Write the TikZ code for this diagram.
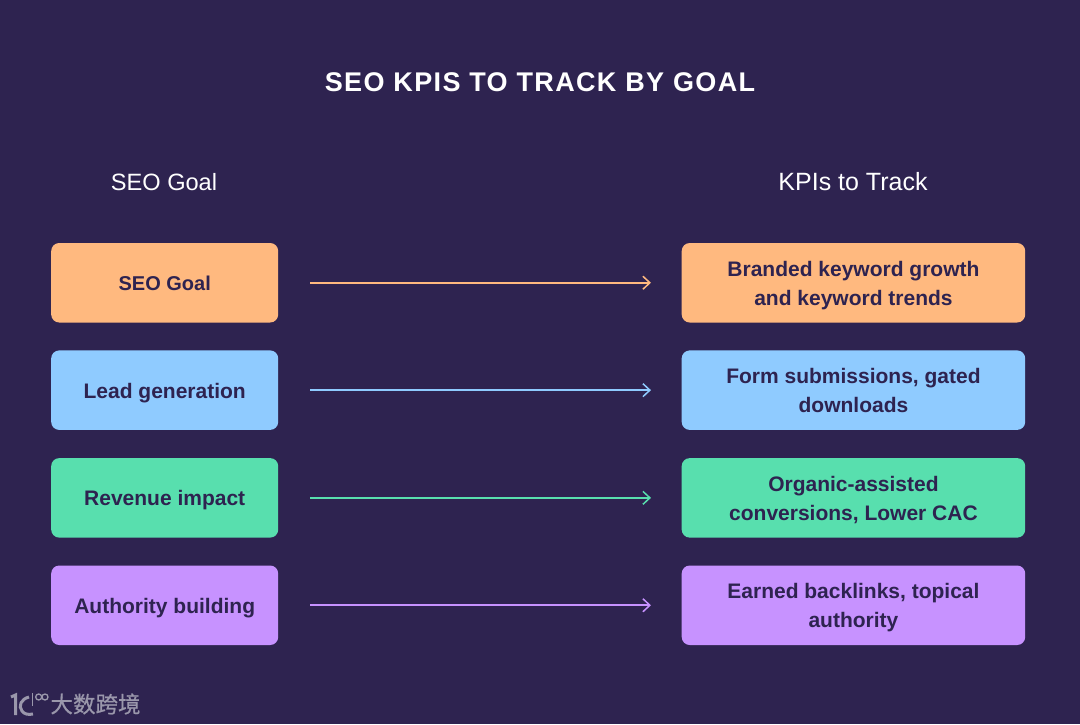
\documentclass[tikz,border=0pt]{standalone}
\usepackage{fontspec}
\setmainfont{Liberation Sans}
\newfontfamily\titlefont[LetterSpace=5]{Liberation Sans}
\newfontfamily\cjk[FakeBold=0.7]{Noto Sans CJK SC}
\usetikzlibrary{arrows.meta}
\definecolor{bgc}{HTML}{2E2350}
\definecolor{oc}{HTML}{FFB97F}
\definecolor{bc}{HTML}{8FCBFF}
\definecolor{gc}{HTML}{58DFAE}
\definecolor{pc}{HTML}{C792FF}
\definecolor{wm}{HTML}{9A97AB}
\newcommand\tx[1]{\raisebox{-2.2pt}[\height][\depth]{\begin{tabular}{@{}c@{}}#1\end{tabular}}}
\tikzset{
 x=1pt,y=-1pt,
 box/.style={rounded corners=8pt,inner sep=0pt,text=bgc,font=\fontsize{21}{29}\selectfont\bfseries,anchor=north west},
 lbox/.style={box,minimum width=227pt,minimum height=79.5pt},
 rbox/.style={box,minimum width=343.5pt,minimum height=79.5pt},
 hd/.style={text=white},
 conn/.style={line width=1.7pt,shorten <=32pt,shorten >=30.5pt,-{Straight Barb[length=7pt,width=13pt,line width=1.5pt]}},
}
\begin{document}
\begin{tikzpicture}
\useasboundingbox[fill=bgc] (0,0) rectangle (1080,724);
\node[text=white,font=\titlefont\fontsize{27}{32}\selectfont\bfseries] (title) at (540,82) {SEO KPIS TO TRACK BY GOAL};
\node[hd,font=\fontsize{23.6}{29}\selectfont] (h1) at (164,182) {SEO Goal};
\node[hd,font=\fontsize{25}{29}\selectfont] (h2) at (853,182) {KPIs to Track};
\node[lbox,fill=oc,font=\fontsize{20}{29}\selectfont\bfseries] (l1) at (51,242.8) {\tx{SEO Goal}};
\node[lbox,fill=bc] (l2) at (51,350.2) {\tx{Lead generation}};
\node[lbox,fill=gc] (l3) at (51,457.9) {\tx{Revenue impact}};
\node[lbox,fill=pc] (l4) at (51,565.3) {\tx{Authority building}};
\node[rbox,fill=oc] (r1) at (681.5,242.8) {\tx{Branded keyword growth\\and keyword trends}};
\node[rbox,fill=bc] (r2) at (681.5,350.2) {\tx{Form submissions, gated\\downloads}};
\node[rbox,fill=gc] (r3) at (681.5,457.9) {\tx{Organic-assisted\\conversions, Lower CAC}};
\node[rbox,fill=pc] (r4) at (681.5,565.3) {\tx{Earned backlinks, topical\\authority}};
\draw[conn,oc] (l1) -- (r1);
\draw[conn,bc] (l2) -- (r2);
\draw[conn,gc] (l3) -- (r3);
\draw[conn,pc] (l4) -- (r4);
% watermark
\draw[wm,line width=3pt] (11,697) -- (15.5,695) -- (15.5,715);
\draw[wm,line width=3pt] (29,697) .. controls (21,699) and (18,706) .. (22,711) .. controls (24,714) and (28,715) .. (33,714);
\draw[wm,line width=1.8pt] (32.5,693) -- (32.5,706);
\draw[wm,line width=1.3pt] (38.7,697) circle (3pt);
\draw[wm,line width=1.3pt] (45,697) circle (3pt);
\node[wm,font=\cjk\fontsize{22.5}{24}\selectfont,inner sep=0pt] (mark) at (95.5,704) {大数跨境};
\end{tikzpicture}
\end{document}
